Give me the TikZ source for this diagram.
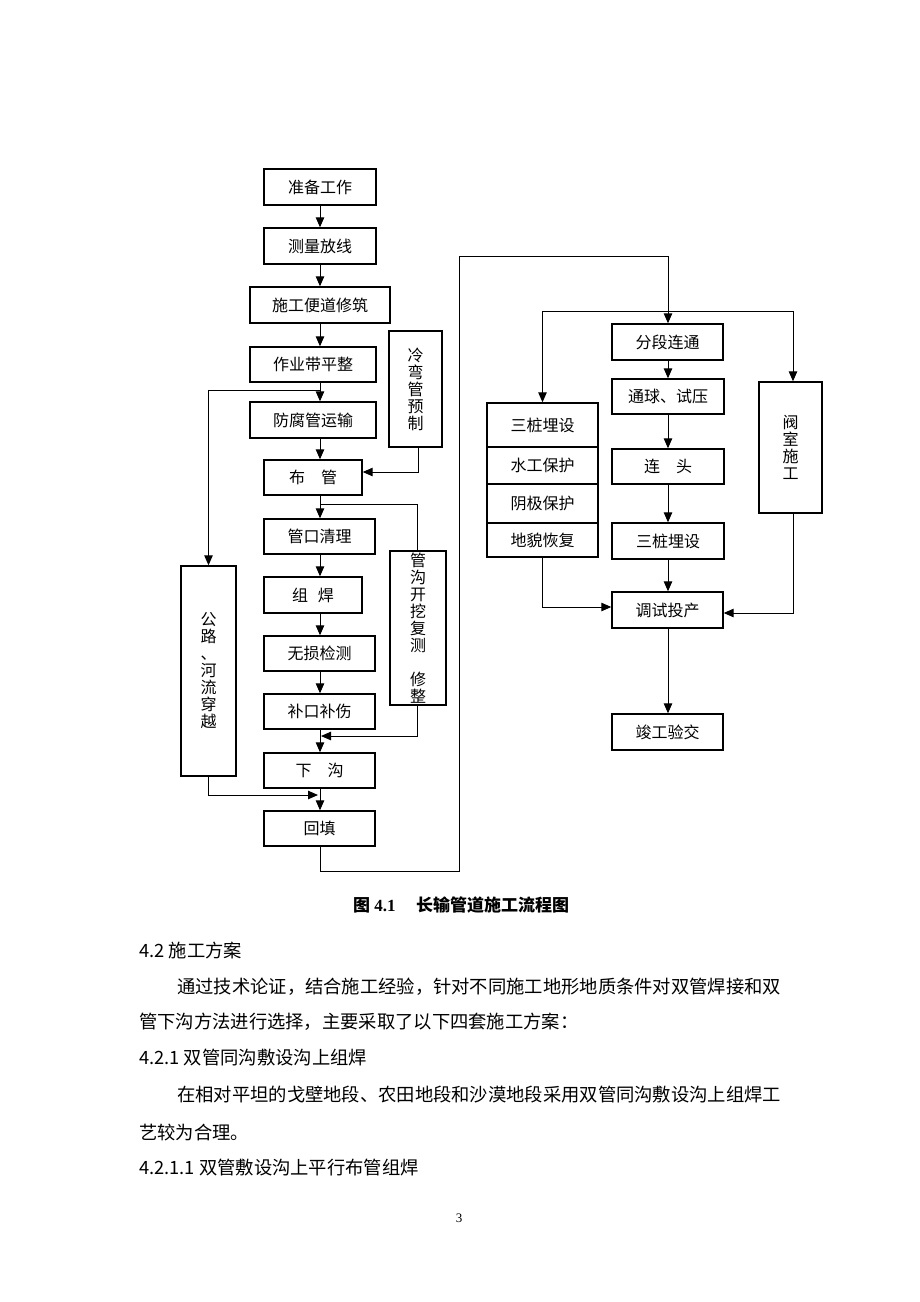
\documentclass[tikz,border=0pt]{standalone}
\usepackage{fontspec}
\setmainfont{Liberation Serif}
\newfontfamily\cjk{Noto Sans CJK SC}
\usetikzlibrary{arrows.meta}
\tikzset{
  box/.style={draw, line width=1.4pt, inner sep=0pt, font=\cjk\fontsize{16}{17}\selectfont, align=center},
  arr/.style={line width=1pt, -{Triangle[length=10pt,width=8.5pt]}},
  ln/.style={line width=1pt},
  body/.style={anchor=west, inner sep=0pt, font=\cjk\fontsize{18.3}{20}\selectfont},
}
\begin{document}
\begin{tikzpicture}[x=1pt,y=-1pt]
\useasboundingbox (0,0) rectangle (920,1302);
% ---- left column ----
\node[box, minimum width=112pt, minimum height=36pt] (prep)   at (320,187)   {准备工作};
\node[box, minimum width=112pt, minimum height=36pt] (survey) at (320,246)   {测量放线};
\node[box, minimum width=140pt, minimum height=36pt] (road)   at (320,305)   {施工便道修筑};
\node[box, minimum width=126pt, minimum height=35pt] (level)  at (313,364.5) {作业带平整};
\node[box, minimum width=126pt, minimum height=36pt] (anti)   at (313,420)   {防腐管运输};
\node[box, minimum width=98pt,  minimum height=35pt] (lay)    at (313,477.5) {布\hspace{1em}管};
\node[box, minimum width=111pt, minimum height=35pt] (clean)  at (319.5,536.5) {管口清理};
\node[box, minimum width=98pt,  minimum height=36pt] (weld)   at (313,595)   {组\hspace{0.6em}焊};
\node[box, minimum width=111pt, minimum height=35pt] (ndt)    at (319.5,653.5) {无损检测};
\node[box, minimum width=111pt, minimum height=35pt] (patch)  at (319.5,711.5) {补口补伤};
\node[box, minimum width=111pt, minimum height=35pt] (lower)  at (319.5,770.5) {下\hspace{1em}沟};
\node[box, minimum width=111pt, minimum height=35pt] (back)   at (319.5,828.5) {回填};
\node[box, minimum width=53pt,  minimum height=116pt] (cold)  at (415.5,389) {冷\\弯\\管\\预\\制};
\node[box, minimum width=56pt,  minimum height=154pt] (trench) at (418,628) {管\\沟\\开\\挖\\复\\测\\\mbox{}\\修\\整};
\node[box, minimum width=55pt,  minimum height=210pt] (cross) at (208.5,671) {公\\路\\、\\河\\流\\穿\\越};
% ---- right part ----
\node[box, minimum width=111pt, minimum height=36pt] (seg)    at (667.5,342) {分段连通};
\node[box, minimum width=112pt, minimum height=35pt] (test)   at (668,396.5) {通球、试压};
\node[box, minimum width=112pt, minimum height=35pt] (join)   at (668,466.5) {连\hspace{1em}头};
\node[box, minimum width=112pt, minimum height=36pt] (pile)   at (668,541)   {\raisebox{-6pt}{三桩埋设}};
\node[box, minimum width=111pt, minimum height=36pt] (commis) at (667.5,610) {调试投产};
\node[box, minimum width=111pt, minimum height=36pt] (accept) at (667.5,732) {竣工验交};
\node[box, minimum width=63pt,  minimum height=131pt] (valve) at (790.5,447.5) {阀\\室\\施\\工};
\node[box, minimum width=111pt, minimum height=44pt] (g1) at (542.5,425)   {三桩埋设};
\node[box, minimum width=111pt, minimum height=37pt] (g2) at (542.5,465.5) {水工保护};
\node[box, minimum width=111pt, minimum height=39pt] (g3) at (542.5,503.5) {阴极保护};
\node[box, minimum width=111pt, minimum height=34pt] (g4) at (542.5,540)   {地貌恢复};
% ---- coordinates ----
\coordinate (b1) at (320,390);
\coordinate (b2) at (320,504);
\coordinate (b3) at (320,736);
\coordinate (b4) at (318,795);
\coordinate (e1) at (320,871);
\coordinate (e2) at (459,871);
\coordinate (e3) at (459,256);
\coordinate (e4) at (668,256);
\coordinate (br) at (668,311);
% ---- left connectors ----
\draw[arr] (prep.south) -- (survey.north);
\draw[arr] (survey.south) -- (road.north);
\draw[arr] (road.south) -- (road.south |- level.north);
\draw[arr] (road.south |- level.south) -- (road.south |- anti.north);
\draw[arr] (b1) -| (cross.north);
\draw[arr] (road.south |- anti.south) -- (road.south |- lay.north);
\draw[arr] ([xshift=2.5pt]cold.south) |- ([yshift=5.5pt]lay.east);
\draw[arr] (road.south |- lay.south) -- (road.south |- clean.north);
\draw[ln] (b2) -| ([xshift=-1pt]trench.north);
\draw[arr] (road.south |- clean.south) -- (road.south |- weld.north);
\draw[arr] (road.south |- weld.south) -- (road.south |- ndt.north);
\draw[arr] (road.south |- ndt.south) -- (road.south |- patch.north);
\draw[arr] (road.south |- patch.south) -- (road.south |- lower.north);
\draw[arr] ([xshift=-1pt]trench.south) |- ([xshift=1pt]b3);
\draw[arr] (road.south |- lower.south) -- (road.south |- back.north);
\draw[arr] (cross.south) |- (b4);
\draw[arr] (road.south |- back.south) -- (e1) -- (e2) -- (e3) -- (e4) -- (e4 |- seg.north);
% ---- right connectors ----
\draw[arr] (br) -| (g1.north);
\draw[arr] (br) -| ([xshift=2.5pt]valve.north);
\draw[arr] (e4 |- seg.south) -- (e4 |- test.north);
\draw[arr] (e4 |- test.south) -- (e4 |- join.north);
\draw[arr] (e4 |- join.south) -- (e4 |- pile.north);
\draw[arr] (e4 |- pile.south) -- (e4 |- commis.north);
\draw[arr] (e4 |- commis.south) -- (e4 |- accept.north);
\draw[arr] (g4.south) |- ([yshift=3pt]commis.west);
\draw[arr] ([xshift=2.5pt]valve.south) |- ([yshift=-3pt]commis.east);
% ---- caption and text ----
\node[anchor=west, inner sep=0pt, font=\bfseries\fontsize{17}{20}\selectfont] (cap) at (353,905)
  {{\cjk 图} 4.1\hspace{1.2em}{\cjk 长输管道施工流程图}};
\node[body] (t1) at (139,950)  {4.2 施工方案};
\node[body] (t2) at (177,987)  {通过技术论证，结合施工经验，针对不同施工地形地质条件对双管焊接和双};
\node[body] (t3) at (139,1022) {管下沟方法进行选择，主要采取了以下四套施工方案：};
\node[body] (t4) at (139,1058) {4.2.1 双管同沟敷设沟上组焊};
\node[body] (t5) at (177,1095) {在相对平坦的戈壁地段、农田地段和沙漠地段采用双管同沟敷设沟上组焊工};
\node[body] (t6) at (139,1132) {艺较为合理。};
\node[body] (t7) at (139,1168) {4.2.1.1 双管敷设沟上平行布管组焊};
\node[inner sep=0pt, font=\fontsize{13}{15}\selectfont] (pg) at (459,1218) {3};
\end{tikzpicture}
\end{document}
